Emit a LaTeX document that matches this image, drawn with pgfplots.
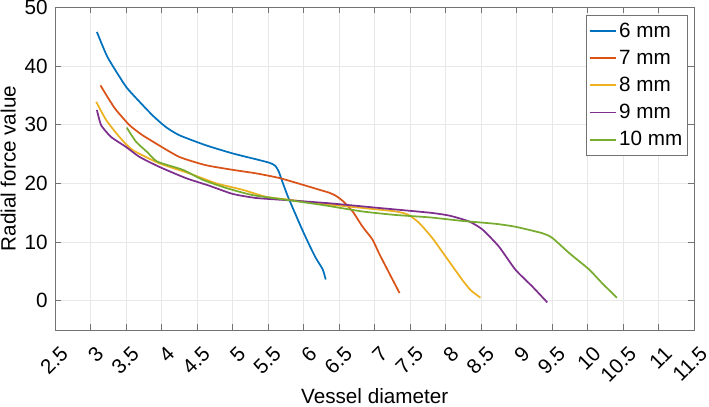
\documentclass[border=0pt]{standalone}
\usepackage{pgfplots}
\pgfplotsset{compat=1.18}
\usepackage{fontspec}
\setmainfont{Liberation Sans}

\definecolor{mblue}{rgb}{0,0.447,0.741}
\definecolor{mred}{rgb}{0.85,0.325,0.098}
\definecolor{myellow}{rgb}{0.929,0.694,0.125}
\definecolor{mpurple}{rgb}{0.494,0.184,0.556}
\definecolor{mgreen}{rgb}{0.466,0.674,0.188}
\definecolor{axgray}{gray}{0.45}

\begin{document}
\begin{tikzpicture}
\begin{axis}[
  scale only axis,
  width=479.5pt, height=242pt,
  xmin=2.5, xmax=11.5, ymin=-5, ymax=50,
  xtick={2.5,3,3.5,4,4.5,5,5.5,6,6.5,7,7.5,8,8.5,9,9.5,10,10.5,11,11.5},
  xticklabels={2.5,3,3.5,4,4.5,5,5.5,6,6.5,7,7.5,8,8.5,9,9.5,10,10.5,11,11.5},
  ytick={0,10,20,30,40,50},
  yticklabels={0,10,20,30,40,50},
  font=\fontsize{15.5}{18.6}\selectfont,
  tick align=inside,
  major tick length=4.5pt,
  tick style={axgray, line width=0.5pt},
  axis line style={axgray, line width=0.6pt},
  grid=major,
  major grid style={gray!18, line width=0.5pt},
  xticklabel style={inner sep=0pt, xshift=7.1pt, yshift=-15pt, rotate=45, anchor=east},
  yticklabel style={inner sep=0pt, xshift=-5.25pt, anchor=east},
  xlabel={Vessel diameter},
  ylabel={Radial force value},
  every axis x label/.style={at={(axis description cs:0.5,0)}, anchor=base,
    inner sep=0pt, yshift=-55.5pt},
  every axis y label/.style={at={(axis description cs:0,0.5)}, xshift=-35pt,
    rotate=90, anchor=center, inner sep=0pt},
  legend style={at={(1,1)}, anchor=north east, xshift=-5.3pt, yshift=-5.8pt,
    draw=axgray, line width=0.5pt, fill=white, inner xsep=1.5pt, inner ysep=3.5pt,
    row sep=4.1pt, font=\fontsize{15.5}{18.6}\selectfont},
  legend cell align=left,
  legend image code/.code={\draw[#1, line width=1.3pt] (0pt,0pt) -- (19.5pt,0pt);},
  every axis plot/.append style={line width=1.3pt, smooth, tension=0.35},
]
\addplot[color=mblue] coordinates {
 (3.09,45.8) (3.15,44.0) (3.24,41.5) (3.38,38.7) (3.51,36.3) (3.69,33.9)
 (3.88,31.5) (4.06,29.6) (4.25,28.2) (4.62,26.5) (5.0,25.1) (5.33,24.1)
 (5.52,23.5) (5.6,23.0) (5.65,22.0) (5.70,20.3) (5.77,18.0) (5.84,16.0)
 (5.98,12.1) (6.08,9.5) (6.17,7.3) (6.27,5.3) (6.31,3.6)};
\addlegendentry{6 mm}
\addplot[color=mred] coordinates {
 (3.14,36.7) (3.25,34.5) (3.36,32.5) (3.55,29.9) (3.72,28.3) (3.92,26.8)
 (4.25,24.5) (4.62,23.1) (5.0,22.3) (5.33,21.7) (5.66,20.9) (6.03,19.6)
 (6.25,18.8) (6.36,18.4) (6.45,17.9) (6.55,17.0) (6.69,15.2) (6.83,12.6)
 (6.97,10.4) (7.06,8.1) (7.2,4.8) (7.35,1.3)};
\addlegendentry{7 mm}
\addplot[color=myellow] coordinates {
 (3.08,33.9) (3.22,30.8) (3.4,28.0) (3.59,25.7) (3.97,23.4) (4.39,21.7)
 (4.77,20.0) (5.14,18.9) (5.47,17.7) (5.8,17.2) (6.27,16.5) (6.83,15.8)
 (7.30,15.2) (7.48,14.6) (7.63,13.2) (7.81,10.7) (8.0,7.5) (8.23,3.6)
 (8.35,1.8) (8.49,0.5)};
\addlegendentry{8 mm}
\addplot[color=mpurple] coordinates {
 (3.09,32.5) (3.15,29.9) (3.29,27.9) (3.50,26.2) (3.69,24.5) (3.97,22.8)
 (4.34,20.9) (4.67,19.6) (5.0,18.2) (5.33,17.5) (5.80,17.1) (6.36,16.6)
 (7.06,15.8) (7.77,15.0) (8.05,14.5) (8.33,13.5) (8.52,12.1) (8.75,9.2)
 (8.98,5.3) (9.22,2.4) (9.43,-0.3)};
\addlegendentry{9 mm}
\addplot[color=mgreen] coordinates {
 (3.51,29.5) (3.64,27.1) (3.8,25.3) (3.94,23.7) (4.30,22.3) (4.58,20.6)
 (4.91,19.2) (5.28,18.0) (5.75,17.2) (6.27,16.3) (6.83,15.2) (7.30,14.6)
 (7.77,14.2) (8.23,13.6) (8.70,13.1) (8.98,12.6) (9.36,11.5) (9.50,10.7)
 (9.74,8.1) (10.02,5.3) (10.20,3.0) (10.41,0.5)};
\addlegendentry{10 mm}
\end{axis}
\pgfresetboundingbox
\path[use as bounding box] (current axis.south west) ++(-41.25pt,-57.75pt)
  rectangle ([shift={(11pt,5.5pt)}]current axis.north east);
\end{tikzpicture}
\end{document}
